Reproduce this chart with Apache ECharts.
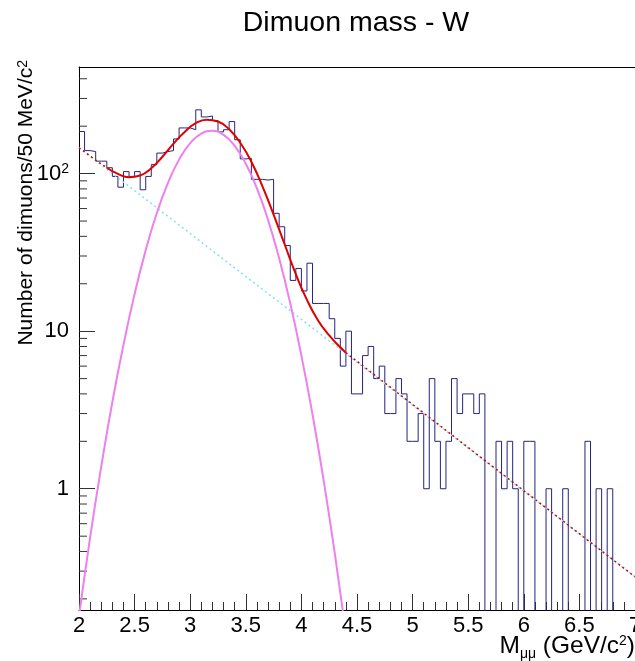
<!DOCTYPE html>
<html>
<head>
<meta charset="utf-8">
<title>Dimuon mass - W</title>
<script src="https://cdn.jsdelivr.net/npm/echarts@6/dist/echarts.min.js"></script>
<style>
  html, body { margin: 0; padding: 0; background: #fff; }
  #chart { width: 635px; height: 661px; }
</style>
</head>
<body>
<div id="chart"></div>
<script>
// histogram: dimuons per 50 MeV bin, from 2.0 to 7.0 GeV/c2
const massMin = 2.0;
const massMax = 7.0;
const binWidth = 0.05;
const counts = [
  185, 140, 138, 120, 120, 109, 96, 82, 103, 96,
  103, 79, 96, 114, 135, 138, 140, 166, 195, 195,
  190, 254, 229, 232, 217, 184, 190, 214, 164, 124,
  125, 92, 92, 91, 92, 56, 46, 35, 21, 25,
  18, 27, 15, 15, 15, 12, 9, 6, 10, 4,
  4, 7, 8, 5, 6, 3, 3, 5, 4, 2,
  2, 3, 1, 5, 2, 1, 2, 5, 3, 4,
  4, 3, 4, 0, 0, 2, 1, 2, 1, 0,
  2, 2, 0, 0, 1, 0, 0, 1, 0, 0,
  0, 2, 0, 1, 0, 1, 0, 0, 0, 0
];

// gaussian (signal) curve, magenta
const gaussX = [2.0, 2.1, 2.2, 2.3, 2.4, 2.5, 2.6, 2.7, 2.8, 2.9, 3.0, 3.1, 3.2,
                3.3, 3.4, 3.5, 3.6, 3.7, 3.8, 3.9, 4.0, 4.1, 4.2, 4.3, 4.4];
const gaussY = [0.155, 0.49, 1.38, 3.55, 8.2, 17.2, 32.7, 56.2, 87.3, 122.7, 156, 179.6, 187,
                176, 150, 115.6, 80.6, 50.9, 29.0, 15.0, 7.0, 2.96, 1.13, 0.39, 0.122];

// total fit inside the fit range, red solid
const totalX = [2.25, 2.35, 2.45, 2.55, 2.65, 2.75, 2.85, 2.95, 3.05, 3.15, 3.25, 3.35,
                3.45, 3.55, 3.65, 3.75, 3.85, 3.95, 4.05, 4.15, 4.25, 4.35, 4.4];
const totalY = [109, 99.6, 95, 97.3, 108, 128, 155, 184, 209, 220, 214, 191,
                157, 119, 83, 55, 35.5, 23, 15.8, 11.7, 9.4, 7.9, 7.3];

// total fit outside the range, red dotted
const totalLeftX = [2.0, 2.1, 2.2, 2.25];
const totalLeftY = [146, 129.3, 115, 109];
const totalRightX = [4.4, 7.0];
const totalRightY = [7.3, 0.276];

// exponential background, cyan dotted
const bgX = [2.0, 7.0];
const bgY = [146, 0.276];

// axes
const yMin = 0.17;
const yMax = 475;
const xTickStep = 0.5;
const yMinorTicks = [0.2, 0.3, 0.4, 0.5, 0.6, 0.7, 0.8, 0.9,
                     2, 3, 4, 5, 6, 7, 8, 9,
                     20, 30, 40, 50, 60, 70, 80, 90,
                     200, 300, 400];

const FONT = '"Liberation Sans", Arial, Helvetica, sans-serif';
const zeroFloor = 1e-3; // empty bins drop below the frame

function pairs(xs, ys) {
  return xs.map((x, i) => [x, ys[i]]);
}

const histData = counts.map((c, i) => [massMin + i * binWidth, c > 0 ? c : zeroFloor]);
histData.push([massMax, counts[counts.length - 1] > 0 ? counts[counts.length - 1] : zeroFloor]);

const chart = echarts.init(document.getElementById('chart'));

const option = {
  animation: false,
  backgroundColor: '#fff',
  title: {
    text: 'Dimuon mass - W',
    left: 351,
    top: 4,
    textAlign: 'center',
    textStyle: { fontFamily: FONT, fontSize: 28.5, fontWeight: 'normal', color: '#000' }
  },
  grid: { left: 79, right: 0, top: 67, bottom: 51, containLabel: false, outerBoundsMode: 'none' },
  xAxis: [
    {
      type: 'value',
      min: massMin,
      max: massMax,
      interval: xTickStep,
      axisLine: { show: true, lineStyle: { color: '#000', width: 1 } },
      axisTick: { show: true, inside: true, length: 16, lineStyle: { color: '#333' } },
      minorTick: { show: true, splitNumber: 5, length: 8, lineStyle: { color: '#333' } },
      splitLine: { show: false },
      axisLabel: {
        fontFamily: FONT, fontSize: 22, color: '#000', margin: 5,
        formatter: v => String(Math.round(v * 10) / 10)
      }
    },
    {
      type: 'value',
      position: 'top',
      min: massMin,
      max: massMax,
      axisLine: { show: true, lineStyle: { color: '#000', width: 1 } },
      axisTick: { show: false },
      axisLabel: { show: false },
      splitLine: { show: false }
    }
  ],
  yAxis: {
    type: 'log',
    logBase: 10,
    min: yMin,
    max: yMax,
    axisLine: { show: true, lineStyle: { color: '#000', width: 1 } },
    axisTick: { show: true, inside: true, length: 16, lineStyle: { color: '#333' } },
    splitLine: { show: false },
    axisLabel: {
      fontFamily: FONT, fontSize: 22, color: '#000', margin: 10,
      showMinLabel: false, showMaxLabel: false,
      formatter: v => {
        const p = Math.log10(v);
        const r = Math.round(p);
        if (Math.abs(p - r) > 1e-6) return '';
        if (r === 0) return '1';
        if (r === 1) return '10';
        if (r === 2) return '10{sup|2}';
        return '';
      },
      rich: {
        sup: { fontFamily: FONT, fontSize: 14, verticalAlign: 'top', padding: [0, 0, 8, 0] }
      }
    }
  },
  graphic: [
    {
      type: 'text',
      x: 27,
      y: 60,
      rotation: Math.PI / 2,
      style: {
        text: '{m|Number of dimuons/50 MeV/c}{sup|2}',
        align: 'right',
        verticalAlign: 'middle',
        fill: '#000',
        rich: {
          m: { fontFamily: FONT, fontSize: 21, lineHeight: 22, verticalAlign: 'top' },
          sup: { fontFamily: FONT, fontSize: 14, lineHeight: 14, verticalAlign: 'top' }
        }
      }
    },
    {
      type: 'text',
      x: 635,
      y: 646,
      style: {
        text: '{m|M}{sub|\u03bc\u03bc}{m| (GeV/c}{sup|2}{m|)}',
        align: 'right',
        verticalAlign: 'middle',
        fill: '#000',
        rich: {
          m: { fontFamily: FONT, fontSize: 24.5, lineHeight: 24, verticalAlign: 'top' },
          sub: { fontFamily: FONT, fontSize: 14, lineHeight: 14, verticalAlign: 'top', padding: [13, 0, 0, 0] },
          sup: { fontFamily: FONT, fontSize: 14, lineHeight: 14, verticalAlign: 'top' }
        }
      }
    }
  ],
  series: [
    {
      name: 'data',
      type: 'line',
      step: 'end',
      data: histData,
      symbol: 'none',
      clip: true,
      lineStyle: { color: '#24247f', width: 1 },
      z: 2
    },
    {
      name: 'background',
      type: 'line',
      data: pairs(bgX, bgY),
      symbol: 'none',
      clip: true,
      lineStyle: { color: '#7fe3ea', width: 1.5, type: [2, 3] },
      z: 3
    },
    {
      name: 'signal',
      type: 'line',
      data: pairs(gaussX, gaussY),
      smooth: true,
      symbol: 'none',
      clip: true,
      lineStyle: { color: '#ee80ee', width: 2 },
      z: 4
    },
    {
      name: 'fit',
      type: 'line',
      data: pairs(totalX, totalY),
      smooth: true,
      symbol: 'none',
      clip: true,
      lineStyle: { color: '#e00000', width: 2 },
      z: 5
    },
    {
      name: 'fit left',
      type: 'line',
      data: pairs(totalLeftX, totalLeftY),
      symbol: 'none',
      clip: true,
      lineStyle: { color: '#d40000', width: 1.5, type: [2, 3] },
      z: 5
    },
    {
      name: 'fit right',
      type: 'line',
      data: pairs(totalRightX, totalRightY),
      symbol: 'none',
      clip: true,
      lineStyle: { color: '#d40000', width: 1.5, type: [2, 3] },
      z: 5
    },
    {
      // minor ticks of the log axis at 2..9 of each decade
      name: 'y minor ticks',
      type: 'custom',
      silent: true,
      data: yMinorTicks.map(v => [massMin, v]),
      renderItem: (params, api) => {
        const p = api.coord([api.value(0), api.value(1)]);
        return {
          type: 'line',
          shape: { x1: p[0], y1: p[1], x2: p[0] + 8, y2: p[1] },
          style: { stroke: '#333', lineWidth: 1 }
        };
      },
      z: 1
    }
  ]
};

chart.setOption(option);
</script>
</body>
</html>
